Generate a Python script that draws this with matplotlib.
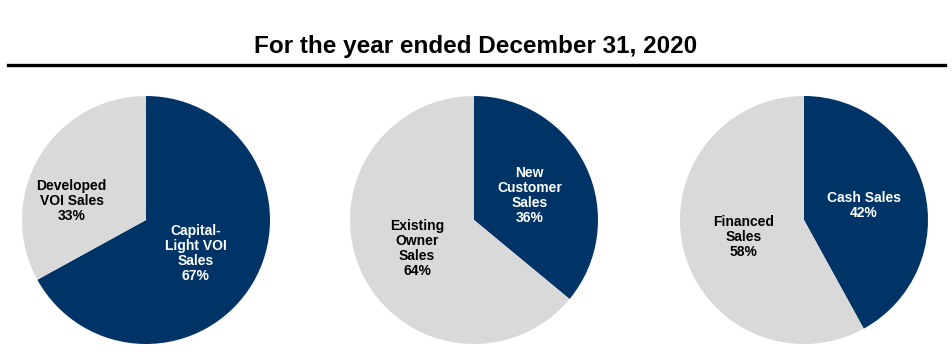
import matplotlib.pyplot as plt
from matplotlib.lines import Line2D

plt.rcParams['font.family'] = ['Liberation Sans', 'DejaVu Sans']

# data
mix_labels = ['Capital-\nLight VOI\nSales', 'Developed\nVOI Sales']
mix_values = [67, 33]
cust_labels = ['New\nCustomer\nSales', 'Existing\nOwner\nSales']
cust_values = [36, 64]
pay_labels = ['Cash Sales', 'Financed\nSales']
pay_values = [42, 58]

navy = '#003466'
grey = '#d9d9d9'

W, H = 952, 358
fig = plt.figure(figsize=(W / 100, H / 100), dpi=100)

fig.text(476 / W, 1 - 46 / H, 'For the year ended December 31, 2020',
         ha='center', va='center', fontsize=17.5, fontweight='bold')
fig.add_artist(Line2D([8 / W, 945 / W], [1 - 65 / H, 1 - 65 / H],
                      color='black', linewidth=2.4, transform=fig.transFigure))

R = 124
pies = [
    (146, mix_labels, mix_values, [(0.40, -0.27), (-0.60, 0.15)]),
    (474, cust_labels, cust_values, [(0.45, 0.20), (-0.46, -0.23)]),
    (804, pay_labels, pay_values, [(0.48, 0.12), (-0.49, -0.14)]),
]
cy = 220

for cx, labels, values, pos in pies:
    ax = fig.add_axes([(cx - R) / W, 1 - (cy + R) / H, 2 * R / W, 2 * R / H])
    ax.pie(values, colors=[navy, grey], startangle=90, counterclock=False,
           radius=1.0)
    ax.set_xlim(-1, 1)
    ax.set_ylim(-1, 1)
    for lab, val, (x, y), tc in zip(labels, values, pos, ['white', 'black']):
        ax.text(x, y, f'{lab}\n{val}%', ha='center', va='center',
                fontsize=10, fontweight='bold', color=tc, linespacing=1.1)

fig.savefig('out.png', dpi=100)
